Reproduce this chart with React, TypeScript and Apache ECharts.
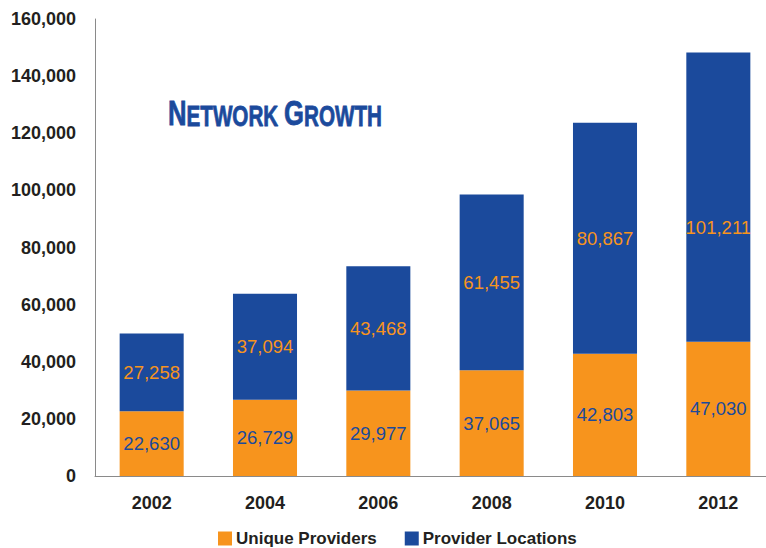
import React, { useEffect, useRef } from "react";
import * as echarts from "echarts";

const years = ["2002", "2004", "2006", "2008", "2010", "2012"];
const uniqueProviders = [22630, 26729, 29977, 37065, 42803, 47030];
const providerLocations = [27258, 37094, 43468, 61455, 80867, 101211];
const yTicks = { min: 0, max: 160000, interval: 20000 };

const ORANGE = "#f7941d";
const BLUE = "#1b4a9c";
const DARK = "#231f20";
const FONT = "'Liberation Sans', Arial, sans-serif";

const fmt = (v: number) => v.toLocaleString("en-US");

export default function App() {
  const ref = useRef<HTMLDivElement>(null);
  useEffect(() => {
    if (!ref.current) return;
    document.body.style.margin = "0";
    const chart = echarts.init(ref.current, null, { renderer: "svg" });
    const titleParts = [
      { t: "N", big: true, x: 0 },
      { t: "ETWORK", big: false, x: 26 },
      { t: "G", big: true, x: 163 },
      { t: "ROWTH", big: false, x: 191 },
    ];
    chart.setOption({
      animation: false,
      backgroundColor: "#ffffff",
      grid: { left: 95, top: 19, bottom: 72, width: 680, containLabel: false },
      legend: {
        left: 218,
        top: 530,
        padding: 0,
        itemWidth: 14,
        itemHeight: 14,
        itemGap: 28,
        icon: "rect",
        textStyle: { fontFamily: FONT, fontWeight: "bold", fontSize: 17, color: DARK, padding: [0, 0, 0, -1] },
        data: ["Unique Providers", "Provider Locations"],
      },
      xAxis: {
        type: "category",
        data: years,
        axisLine: { lineStyle: { color: "#8a8a8a", width: 1 } },
        axisTick: { show: false },
        axisLabel: { margin: 18, fontFamily: FONT, fontWeight: "bold", fontSize: 18, color: DARK },
      },
      yAxis: {
        type: "value",
        min: yTicks.min,
        max: yTicks.max,
        interval: yTicks.interval,
        splitLine: { show: false },
        axisLine: { show: true, lineStyle: { color: "#8a8a8a", width: 1 } },
        axisTick: { show: false },
        axisLabel: {
          margin: 19,
          fontFamily: FONT,
          fontWeight: "bold",
          fontSize: 18,
          color: DARK,
          formatter: (v: number) => fmt(v),
        },
      },
      series: [
        {
          name: "Unique Providers",
          type: "bar",
          stack: "total",
          barWidth: "56.5%",
          itemStyle: { color: ORANGE },
          label: {
            show: true,
            position: "inside",
            color: BLUE,
            fontFamily: FONT,
            fontSize: 18.5,
            formatter: (p: any) => fmt(p.value),
          },
          data: uniqueProviders,
        },
        {
          name: "Provider Locations",
          type: "bar",
          stack: "total",
          barWidth: "56.5%",
          itemStyle: { color: BLUE },
          label: {
            show: true,
            position: "inside",
            color: ORANGE,
            fontFamily: FONT,
            fontSize: 18.5,
            formatter: (p: any) => fmt(p.value),
          },
          data: providerLocations.map((v, i) =>
            i === providerLocations.length - 1 ? { value: v, label: { offset: [0, 30] } } : v
          ),
        },
      ],
      graphic: [
        {
          type: "group",
          x: 168,
          y: 0,
          scaleX: 0.712,
          children: titleParts.map((p) => ({
            type: "text",
            x: p.x,
            y: p.big ? 131 : 130,
            style: {
              text: p.t,
              fill: BLUE,
              stroke: BLUE,
              lineWidth: 0.8,
              font: `bold ${p.big ? 36 : 29}px ${FONT}`,
              verticalAlign: "bottom",
              align: "left",
            },
          })),
        },
      ],
    });
    return () => chart.dispose();
  }, []);
  return (
    <div style={{ width: 766, height: 548, overflow: "hidden" }}>
      <div ref={ref} style={{ width: 800, height: 548 }} />
    </div>
  );
}
